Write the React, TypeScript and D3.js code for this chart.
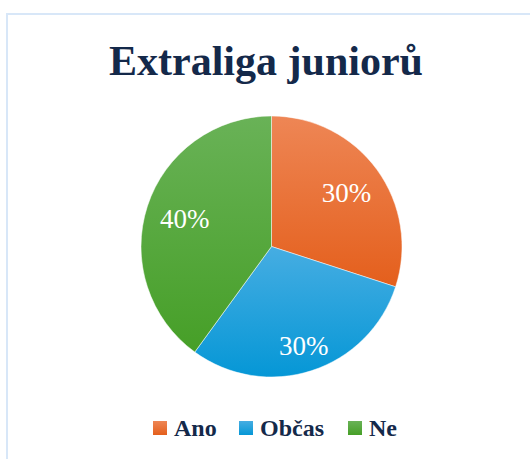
import React from 'react'
import * as d3 from 'd3'

const categories = ['Ano', 'Občas', 'Ne']
const values = [30, 30, 40]
const labels = ['30%', '30%', '40%']
const topColors = ['#ee8655', '#46ade2', '#69b257']
const bottomColors = ['#e45f1c', '#0597d6', '#469f27']
const labelRadius = [0.71, 0.8, 0.7]

const width = 530
const height = 459
const cx = 271.5
const cy = 246.5
const radius = 130.5
const font = 'Liberation Serif'

export default function App() {
  const pie = d3.pie<number>().sort(null).value(d => d)
  const arcs = pie(values)
  const arc = d3.arc<d3.PieArcDatum<number>>().innerRadius(0).outerRadius(radius)

  // legend positions
  const legendX = [153, 239, 348]

  return (
    <div style={{ position: 'absolute', left: 0, top: 0 }}>
      <svg width={width} height={height} style={{ display: 'block', background: '#fff' }}>
        <defs>
          {categories.map((c, i) => (
            <linearGradient key={c} id={'g' + i} x1="0" y1="0" x2="0" y2="1">
              <stop offset="0%" stopColor={topColors[i]} />
              <stop offset="100%" stopColor={bottomColors[i]} />
            </linearGradient>
          ))}
        </defs>
        <rect x={7} y={14} width={width} height={height} fill="none" stroke="#d8e7f8" strokeWidth={2} />
        <text x={266} y={75} textAnchor="middle" fontFamily={font} fontWeight="bold"
          fontSize={42} fill="#14294a">Extraliga juniorů</text>
        <g transform={`translate(${cx},${cy})`}>
          {arcs.map((a, i) => (
            <path key={i} d={arc(a) || ''} fill={`url(#g${i})`} stroke="#fff" strokeWidth={0.5} />
          ))}
          {arcs.map((a, i) => {
            const mid = (a.startAngle + a.endAngle) / 2
            const r = radius * labelRadius[i]
            const x = Math.sin(mid) * r
            const y = -Math.cos(mid) * r
            return (
              <text key={'l' + i} x={x} y={y} dy="0.35em" textAnchor="middle"
                fontFamily={font} fontSize={27} fill="#fff">{labels[i]}</text>
            )
          })}
        </g>
        {categories.map((c, i) => (
          <g key={'leg' + i} transform={`translate(${legendX[i]},421)`}>
            <rect width={14} height={14} fill={`url(#g${i})`} />
            <text x={21} y={14.5} fontFamily={font} fontWeight="bold" fontSize={24}
              fill="#14294a">{c}</text>
          </g>
        ))}
      </svg>
    </div>
  )
}
